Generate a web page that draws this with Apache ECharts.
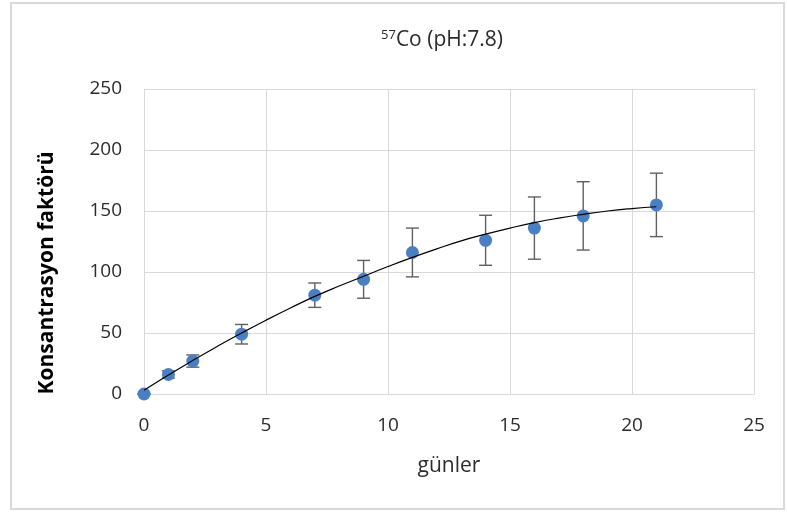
<!DOCTYPE html>
<html>
<head>
<meta charset="utf-8">
<script src="https://cdn.jsdelivr.net/npm/echarts@6/dist/echarts.min.js"></script>
<style>
  html, body { margin: 0; padding: 0; background: #ffffff; }
  #chart { width: 787px; height: 513px; }
</style>
</head>
<body>
<div id="chart"></div>
<script>
// Sampling days and measured concentration factors with their error margins
const days = [0, 1, 2, 4, 7, 9, 11, 14, 16, 18, 21];
const concFactor = [0, 16, 27, 49, 81, 94, 116, 126, 136, 146, 155];
const errMargin = [0, 3, 5, 8, 10, 15.5, 20, 20.5, 25.5, 28, 26];

// Trend curve through the measurements
const trendDays = [0, 1, 2, 3, 4, 5, 6, 7, 8, 9, 10, 11, 12, 13, 14, 15, 16, 17, 18, 19, 20, 21];
const trendValues = [3, 15.5, 27.5, 39, 50, 60.5, 70.5, 80, 88.5, 96.5, 104.5, 112, 119, 125.5, 131, 136, 140.5, 144.2, 147.3, 150, 152, 153.5];

// Axis ticks
const xTicks = [0, 5, 10, 15, 20, 25];
const yTicks = [0, 50, 100, 150, 200, 250];

const FONT = '"Open Sans", "Noto Sans", sans-serif';
const GRID_COLOR = '#d9d9d9';
const TEXT_COLOR = '#2b2b2b';

const chart = echarts.init(document.getElementById('chart'), null, { renderer: 'canvas' });

const points = days.map((d, i) => [d, concFactor[i]]);
const bars = days.map((d, i) => [d, concFactor[i] - errMargin[i], concFactor[i] + errMargin[i]]);
const trend = trendDays.map((d, i) => [d, trendValues[i]]);

chart.setOption({
  backgroundColor: '#ffffff',
  animation: false,
  title: {
    text: '{sup|57}{main|Co (pH:7.8)}',
    left: 437,
    top: 24,
    textAlign: 'center',
    textStyle: {
      fontWeight: 'normal',
      rich: {
        sup: { fontFamily: FONT, fontSize: 13, fontWeight: 'normal', color: TEXT_COLOR, verticalAlign: 'top', padding: [0, 0, 9, 0] },
        main: { fontFamily: FONT, fontSize: 21, fontWeight: 'normal', color: TEXT_COLOR }
      }
    }
  },
  grid: { left: 144, right: 33, top: 89, bottom: 119, containLabel: false },
  xAxis: {
    type: 'value',
    min: xTicks[0],
    max: xTicks[xTicks.length - 1],
    interval: xTicks[1] - xTicks[0],
    name: 'günler',
    nameLocation: 'middle',
    nameGap: 62,
    nameTextStyle: { fontFamily: FONT, fontSize: 21, color: TEXT_COLOR },
    axisLine: { show: true, lineStyle: { color: GRID_COLOR, width: 1 } },
    axisTick: { show: false },
    axisLabel: { fontFamily: FONT, fontSize: 19, color: TEXT_COLOR, margin: 22 },
    splitLine: { show: true, lineStyle: { color: GRID_COLOR, width: 1 } }
  },
  yAxis: {
    type: 'value',
    min: yTicks[0],
    max: yTicks[yTicks.length - 1],
    interval: yTicks[1] - yTicks[0],
    axisLine: { show: false },
    axisTick: { show: false },
    axisLabel: { fontFamily: FONT, fontSize: 19, color: TEXT_COLOR, margin: 22 },
    splitLine: { show: true, lineStyle: { color: GRID_COLOR, width: 1 } }
  },
  graphic: [
    {
      type: 'rect',
      shape: { x: 11, y: 3, width: 773, height: 506 },
      style: { fill: 'none', stroke: '#d9d9d9', lineWidth: 2 },
      z: -10
    },
    {
      type: 'text',
      x: 47,
      y: 273,
      rotation: Math.PI / 2,
      style: {
        text: 'Konsantrasyon faktörü',
        fontFamily: FONT,
        fontSize: 21,
        fontWeight: 'bold',
        fill: '#000000',
        textAlign: 'center',
        textVerticalAlign: 'middle'
      }
    }
  ],
  series: [
    {
      type: 'custom',
      name: 'hata',
      data: bars,
      z: 2,
      renderItem: function (params, api) {
        const x = api.value(0);
        const lo = api.coord([x, api.value(1)]);
        const hi = api.coord([x, api.value(2)]);
        const cap = 6.5;
        const style = { stroke: '#606060', lineWidth: 1.4 };
        return {
          type: 'group',
          children: [
            { type: 'line', shape: { x1: lo[0], y1: lo[1], x2: hi[0], y2: hi[1] }, style: style },
            { type: 'line', shape: { x1: hi[0] - cap, y1: hi[1], x2: hi[0] + cap, y2: hi[1] }, style: style },
            { type: 'line', shape: { x1: lo[0] - cap, y1: lo[1], x2: lo[0] + cap, y2: lo[1] }, style: style }
          ]
        };
      }
    },
    {
      type: 'scatter',
      name: 'KF',
      data: points,
      symbol: 'circle',
      symbolSize: 13,
      itemStyle: { color: '#4a7fc1', opacity: 1 },
      z: 3
    },
    {
      type: 'line',
      name: 'trend',
      data: trend,
      smooth: true,
      showSymbol: false,
      symbol: 'none',
      lineStyle: { color: '#000000', width: 1.2 },
      z: 4
    }
  ]
});
</script>
</body>
</html>
